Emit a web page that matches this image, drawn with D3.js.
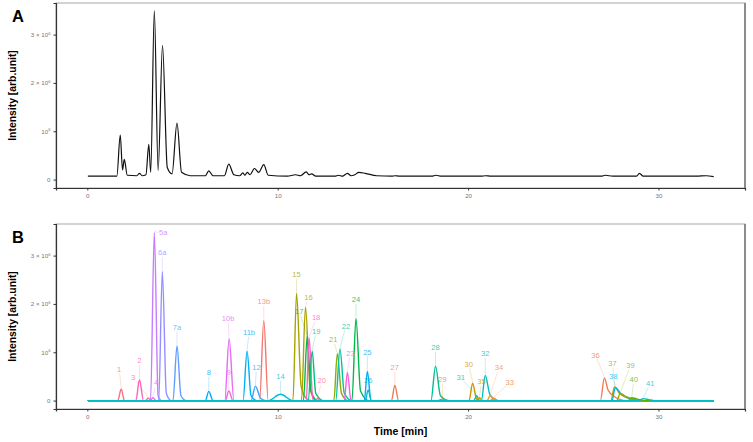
<!DOCTYPE html>
<html>
<head>
<meta charset="utf-8">
<script src="https://cdn.jsdelivr.net/npm/d3@7"></script>
<style>
  body { margin: 0; background: #fff; }
  svg { font-family: "Liberation Sans", Arial, sans-serif; }
</style>
</head>
<body>
<div id="chart"></div>
<script>
// Total chromatogram (panel A): [time min, intensity 1e6]
var totalTrace = [
  [0.03, 0.07], [1.55, 0.07], [1.73, 0.92], [1.85, 0.2], [1.94, 0.42], [2.1, 0.09],
  [2.6, 0.08], [2.74, 0.13], [2.88, 0.08], [3.08, 0.1], [3.23, 0.73], [3.33, 0.15],
  [3.52, 3.49], [3.72, 0.19], [3.95, 2.78], [4.2, 0.25], [4.45, 0.12], [4.71, 1.17],
  [4.95, 0.15], [5.4, 0.08], [6.2, 0.08], [6.38, 0.18], [6.6, 0.08], [7.2, 0.08],
  [7.43, 0.32], [7.7, 0.1], [8.0, 0.08], [8.17, 0.14], [8.28, 0.09], [8.4, 0.15],
  [8.55, 0.1], [8.78, 0.23], [9.0, 0.15], [9.27, 0.31], [9.5, 0.09], [10.5, 0.07],
  [10.94, 0.1], [11.2, 0.08], [11.5, 0.16], [11.65, 0.1], [11.78, 0.12], [12.0, 0.07],
  [13.0, 0.07], [13.2, 0.09], [13.4, 0.07], [13.66, 0.13], [13.85, 0.08], [14.05, 0.1],
  [14.26, 0.15], [14.6, 0.13], [15.2, 0.08], [16.0, 0.07], [16.15, 0.08], [16.4, 0.07],
  [18.1, 0.07], [18.3, 0.09], [18.6, 0.07], [20.7, 0.07], [20.9, 0.08], [21.2, 0.07],
  [27.0, 0.07], [27.2, 0.09], [27.6, 0.07], [28.85, 0.07], [29.0, 0.13], [29.2, 0.07],
  [32.0, 0.07], [32.5, 0.08], [32.9, 0.06]
];

// Individual compounds (panel B)
var compoundLabels = ["1", "2", "3", "4", "5a", "6a", "7a", "8", "9", "10b", "11b", "12", "13b", "14",
  "15", "16", "17", "18", "19", "20", "21", "22", "23", "24", "25", "26", "27", "28", "29",
  "30", "31", "32", "33", "34", "35", "36", "37", "38", "39", "40", "41"];

var compoundTraces = [
  [[1.6, 0], [1.78, 0.24], [1.95, 0]],
  [[2.55, 0], [2.74, 0.43], [2.95, 0]],
  [[3.05, 0], [3.2, 0.05], [3.35, 0]],
  [[3.3, 0], [3.45, 0.06], [3.6, 0]],
  [[3.32, 0], [3.52, 3.48], [3.72, 0.1], [3.9, 0]],
  [[3.75, 0], [3.94, 2.67], [4.15, 0.15], [4.4, 0]],
  [[4.5, 0], [4.71, 1.13], [4.92, 0.1], [5.2, 0]],
  [[6.2, 0], [6.38, 0.19], [6.6, 0]],
  [[7.25, 0], [7.43, 0.2], [7.65, 0]],
  [[7.22, 0], [7.45, 1.28], [7.7, 0]],
  [[8.18, 0], [8.39, 1.02], [8.6, 0.1], [8.9, 0]],
  [[8.6, 0], [8.83, 0.3], [9.1, 0.05], [9.4, 0]],
  [[9.05, 0], [9.27, 1.66], [9.5, 0]],
  [[9.5, 0], [10.15, 0.13], [10.8, 0]],
  [[10.8, 0], [10.99, 2.22], [11.23, 0.3], [11.5, 0.05], [11.8, 0]],
  [[11.25, 0], [11.46, 1.94], [11.7, 0.25], [12.0, 0]],
  [[11.35, 0], [11.55, 1.33], [11.75, 0.2], [12.1, 0]],
  [[11.5, 0], [11.65, 1.3], [11.85, 0]],
  [[11.6, 0], [11.81, 1.02], [12.0, 0.15], [12.4, 0]],
  [[11.95, 0], [12.1, 0.04], [12.25, 0]],
  [[12.95, 0], [13.13, 0.97], [13.35, 0.15], [13.7, 0]],
  [[13.05, 0], [13.27, 1.07], [13.5, 0.15], [13.9, 0]],
  [[13.5, 0], [13.66, 0.59], [13.85, 0]],
  [[13.9, 0], [14.11, 1.7], [14.35, 0.2], [14.8, 0]],
  [[14.55, 0], [14.71, 0.61], [14.9, 0]],
  [[14.6, 0], [14.75, 0.22], [14.92, 0]],
  [[15.98, 0], [16.15, 0.32], [16.35, 0]],
  [[18.05, 0], [18.29, 0.71], [18.55, 0.1], [19.0, 0]],
  [[18.4, 0], [18.65, 0.03], [18.9, 0]],
  [[20.05, 0], [20.24, 0.36], [20.45, 0.03], [20.7, 0]],
  [[20.3, 0], [20.45, 0.1], [20.6, 0]],
  [[20.7, 0], [20.9, 0.52], [21.15, 0.12], [21.6, 0]],
  [[21.15, 0], [21.35, 0.05], [21.55, 0]],
  [[21.0, 0], [21.15, 0.1], [21.35, 0.03], [21.6, 0]],
  [[20.45, 0], [20.6, 0.06], [20.75, 0]],
  [[26.95, 0], [27.16, 0.47], [27.35, 0.22], [27.7, 0.08], [28.3, 0]],
  [[27.5, 0], [27.69, 0.28], [27.95, 0.15], [28.4, 0.05], [29.0, 0]],
  [[27.55, 0], [27.74, 0.27], [28.0, 0.15], [28.5, 0.04], [29.2, 0]],
  [[27.8, 0], [28.0, 0.15], [28.3, 0.08], [28.8, 0.02], [29.3, 0]],
  [[28.4, 0], [28.6, 0.06], [28.9, 0.03], [29.3, 0]],
  [[28.95, 0], [29.2, 0.04], [29.5, 0.02], [29.8, 0]]
];

var timeRange = [0.03, 32.9];
var xTicks = [0, 10, 20, 30];
var yTicks = [0, 1, 2, 3];

// colours per compound (same order as labels)
var compoundColors = ["#FC717F", "#FF62BC", "#FF6C91", "#EF67EB", "#C77CFF", "#9590FF", "#619CFF",
  "#00A9FF", "#F763E0", "#E76BF3", "#00B0F6", "#35A2FF", "#F8766D", "#00BCD8",
  "#A3A500", "#ADA200", "#00BA42", "#FF61C9", "#00BF7D", "#FF6A98", "#8EAB00", "#00C1A3",
  "#FB61D7", "#00B94B", "#00ACFC", "#00BDD0", "#F37B59", "#00BF96", "#E58700",
  "#D39200", "#00C094", "#00BFC4", "#EA8331", "#F2922C", "#C49A00", "#F27D52", "#BB9D00",
  "#00B4EF", "#9AA800", "#5BB300", "#00BFC4"];

// label nudges in pixels from apex (repel layout)
var labelNudge = [[-2, -20], [0, -19], [-15, -21], [3, -15], [9, 0], [0, -19], [0, -19],
  [0, -19], [0, -19], [-1, -20], [2, -19], [1, -19], [0, -19], [0, -18],
  [0, -19], [3, -9], [-8, -25], [7, -20], [4, -20], [4, -18], [-4, -14], [6, -23],
  [3, -19], [0, -19], [0, -19], [0, -10], [0, -18], [0, -19], [0, -20],
  [-4, -19], [-16, -18], [0, -22], [16, -16], [9, -28], [2, -16], [-9, -23], [-2, -24],
  [-2, -11], [10, -28], [2, -18], [7, -15]];

var width = 753, height = 442;
var panelLeft = 56, panelRight = 745;
var panels = [{ top: 3, bottom: 188, tag: "A" }, { top: 224, bottom: 409, tag: "B" }];

var svg = d3.select("#chart").append("svg")
  .attr("width", width)
  .attr("height", height);

// ggplot-like 5% expansion
var xSpan = timeRange[1] - 0;
var x = d3.scaleLinear()
  .domain([0 - xSpan * 0.05, timeRange[1] + xSpan * 0.05])
  .range([panelLeft, panelRight]);

var yMax = d3.max(compoundTraces, t => d3.max(t, d => d[1]));
var yDomain = [0 - yMax * 0.05, yMax + yMax * 0.05];

function yTickLabel(sel, v) {
  if (v === 0) { sel.text("0"); return; }
  if (v !== 1) sel.append("tspan").text(v + " \u00d7 ");
  sel.append("tspan").text("10");
  sel.append("tspan").attr("dy", -2.5).attr("font-size", 4.2).text("6");
}

function drawFrame(p) {
  var y = d3.scaleLinear().domain(yDomain).range([p.bottom, p.top]);
  var g = svg.append("g");

  g.append("rect")
    .attr("x", panelLeft).attr("y", p.top)
    .attr("width", panelRight - panelLeft).attr("height", p.bottom - p.top)
    .attr("fill", "none").attr("stroke", "#a8a8a8").attr("stroke-width", 1);

  // x axis
  var xAxis = g.append("g")
    .attr("transform", `translate(0,${p.bottom})`)
    .call(d3.axisBottom(x).tickValues(xTicks).tickSize(2.5).tickPadding(3));
  xAxis.select(".domain").attr("stroke", "#333").attr("stroke-width", 1.2);
  xAxis.selectAll(".tick line").attr("stroke", "#333");
  xAxis.selectAll(".tick text").attr("fill", "#777").attr("font-size", 6.2);

  // y axis
  var yAxis = g.append("g")
    .attr("transform", `translate(${panelLeft},0)`)
    .call(d3.axisLeft(y).tickValues(yTicks).tickSize(2.5).tickPadding(3).tickFormat(""));
  yAxis.select(".domain").attr("stroke", "#333").attr("stroke-width", 1.2);
  yAxis.selectAll(".tick line").attr("stroke", "#333");
  yAxis.selectAll(".tick text")
    .attr("fill", "#777").attr("font-size", 6.2)
    .each(function(d) { yTickLabel(d3.select(this), d); });

  g.append("line")
    .attr("x1", panelRight).attr("x2", panelRight)
    .attr("y1", p.top).attr("y2", p.bottom)
    .attr("stroke", "#444").attr("stroke-width", 1);

  g.append("text")
    .attr("x", 18).attr("y", p.top + 19)
    .attr("text-anchor", "middle")
    .attr("font-size", 16.5).attr("font-weight", "bold")
    .text(p.tag);

  g.append("text")
    .attr("transform", `translate(16,${(p.top + p.bottom) / 2}) rotate(-90)`)
    .attr("text-anchor", "middle")
    .attr("font-size", 10.4).attr("font-weight", "bold")
    .text("Intensity [arb.unit]");

  return y;
}

// Panel A
var yA = drawFrame(panels[0]);
var lineA = d3.line()
  .x(d => x(d[0]))
  .y(d => yA(d[1]))
  .curve(d3.curveMonotoneX);

svg.append("path")
  .datum(totalTrace)
  .attr("d", lineA)
  .attr("fill", "none")
  .attr("stroke", "#111")
  .attr("stroke-width", 1.2);

// Panel B
var yB = drawFrame(panels[1]);
var lineB = d3.line()
  .x(d => x(d[0]))
  .y(d => yB(d[1]))
  .curve(d3.curveMonotoneX);

var traceGroup = svg.append("g");
compoundTraces.forEach(function(pts, i) {
  var full = [[timeRange[0], 0]].concat(pts, [[timeRange[1], 0]]);
  traceGroup.append("path")
    .datum(full)
    .attr("d", lineB)
    .attr("fill", "none")
    .attr("stroke", compoundColors[i])
    .attr("stroke-width", 1.4);
});

// repelled labels with leader segments
var labelGroup = svg.append("g");
compoundTraces.forEach(function(pts, i) {
  var apex = pts.reduce((a, b) => (b[1] > a[1] ? b : a));
  var ax = x(apex[0]), ay = yB(apex[1]);
  var lx = ax + labelNudge[i][0], ly = ay + labelNudge[i][1];
  var col = compoundColors[i];

  // segment from label to apex
  var dx = ax - lx, dy = ay - ly;
  var len = Math.sqrt(dx * dx + dy * dy);
  if (len > 8) {
    var s = 4.5 / len;
    labelGroup.append("line")
      .attr("x1", lx + dx * s).attr("y1", ly + dy * s)
      .attr("x2", ax).attr("y2", ay - 1)
      .attr("stroke", col).attr("stroke-opacity", 0.35)
      .attr("stroke-width", 0.7);
  }
  labelGroup.append("text")
    .attr("x", lx).attr("y", ly)
    .attr("dy", "0.35em")
    .attr("text-anchor", "middle")
    .attr("font-size", 7.6)
    .attr("fill", col)
    .attr("fill-opacity", 0.8)
    .text(compoundLabels[i]);
});

svg.append("text")
  .attr("x", (panelLeft + panelRight) / 2)
  .attr("y", 435)
  .attr("text-anchor", "middle")
  .attr("font-size", 10.6).attr("font-weight", "bold")
  .text("Time [min]");
</script>
</body>
</html>
